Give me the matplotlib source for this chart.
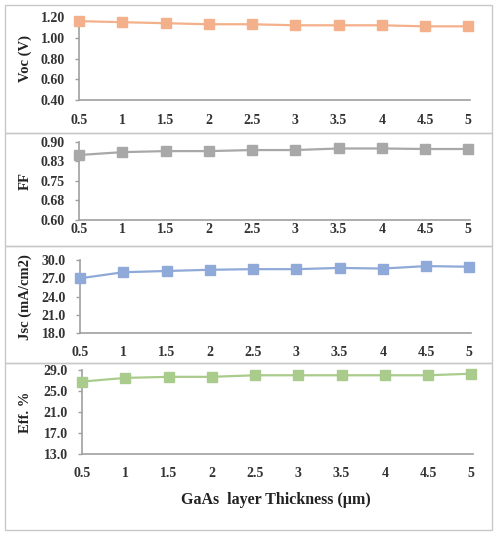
import matplotlib
matplotlib.use("Agg")
import matplotlib.pyplot as plt
from matplotlib.patches import Rectangle

thickness = [0.5, 1, 1.5, 2, 2.5, 3, 3.5, 4, 4.5, 5]
x_labels = ["0.5", "1", "1.5", "2", "2.5", "3", "3.5", "4", "4.5", "5"]
voc = [1.16, 1.15, 1.14, 1.13, 1.13, 1.12, 1.12, 1.12, 1.11, 1.11]
ff = [0.849, 0.860, 0.864, 0.864, 0.868, 0.868, 0.874, 0.874, 0.872, 0.872]
jsc = [27.0, 28.0, 28.2, 28.4, 28.5, 28.5, 28.7, 28.6, 29.0, 28.9]
eff = [26.8, 27.5, 27.7, 27.7, 28.0, 28.0, 28.0, 28.0, 28.0, 28.3]

voc_ticks = [0.40, 0.60, 0.80, 1.00, 1.20]
ff_ticks = [0.60, 0.675, 0.75, 0.825, 0.90]
ff_tick_labels = ["0.60", "0.68", "0.75", "0.83", "0.90"]
jsc_ticks = [18.0, 21.0, 24.0, 27.0, 30.0]
eff_ticks = [13.0, 17.0, 21.0, 25.0, 29.0]

W, H = 495, 533
fig = plt.figure(figsize=(W / 100, H / 100), dpi=100)
fig.patch.set_facecolor("white")

font = "Liberation Serif"

def px_axes(left, right, top, bottom):
    return fig.add_axes([left / W, 1 - bottom / H, (right - left) / W, (bottom - top) / H])

# panel frames
frames = [(5, 133), (133, 246), (246, 363), (363, 530)]
for t, b in frames:
    fig.patches.append(Rectangle((5 / W, 1 - b / H), (492 - 5) / W, (b - t) / H,
                                 transform=fig.transFigure, fill=False,
                                 edgecolor="#C8C8C8", linewidth=1.0))

panels = [
    dict(data=voc, ticks=voc_ticks, tl=["%.2f" % v for v in voc_ticks], label="Voc (V)",
         color="#F4B08A", box=(79, 470, 17, 100), pad=10),
    dict(data=ff, ticks=ff_ticks, tl=ff_tick_labels, label="FF",
         color="#A8A8A8", box=(79, 470, 141.7, 220), pad=2.5),
    dict(data=jsc, ticks=jsc_ticks, tl=["%.1f" % v for v in jsc_ticks], label="Jsc (mA/cm2)",
         color="#8FA9D8", box=(80, 471, 260, 333.3), pad=9),
    dict(data=eff, ticks=eff_ticks, tl=["%.1f" % v for v in eff_ticks], label="Eff. %",
         color="#A9CC8C", box=(82, 473, 370, 454.3), pad=9),
]

for p in panels:
    l, r, t, b = p["box"]
    ax = px_axes(l, r, t, b)
    ax.plot(thickness, p["data"], color=p["color"], marker="s", markersize=7,
            linewidth=1.6, markeredgecolor=p["color"], clip_on=False, zorder=3)
    ax.set_xlim(0.5, 5.02)
    ax.set_ylim(p["ticks"][0], p["ticks"][-1])
    ax.set_yticks(p["ticks"])
    ax.set_yticklabels(p["tl"], fontfamily=font, fontweight="bold", fontsize=10, color="#333333")
    ax.set_xticks(thickness)
    ax.set_xticklabels(x_labels, fontfamily=font, fontweight="bold", fontsize=10, color="#333333")
    ax.tick_params(axis="x", length=0, pad=p["pad"])
    ax.tick_params(axis="y", length=3, width=1, color="#A0A0A0", pad=7)
    for s in ["top", "right"]:
        ax.spines[s].set_visible(False)
    for s in ["left", "bottom"]:
        ax.spines[s].set_color("#A0A0A0")
        ax.spines[s].set_linewidth(1.2)
    ax.set_ylabel(p["label"], fontfamily=font, fontweight="bold", fontsize=10.5, color="#222222")
    ax.yaxis.set_label_coords(-(l - 32) / (r - l), 0.5)

fig.text(276 / W, 1 - 500 / H, "GaAs  layer Thickness (\u00b5m)", ha="center", va="center",
         fontfamily=font, fontweight="bold", fontsize=11.5, color="#222222")

fig.savefig("out.png", dpi=100, facecolor="white")
